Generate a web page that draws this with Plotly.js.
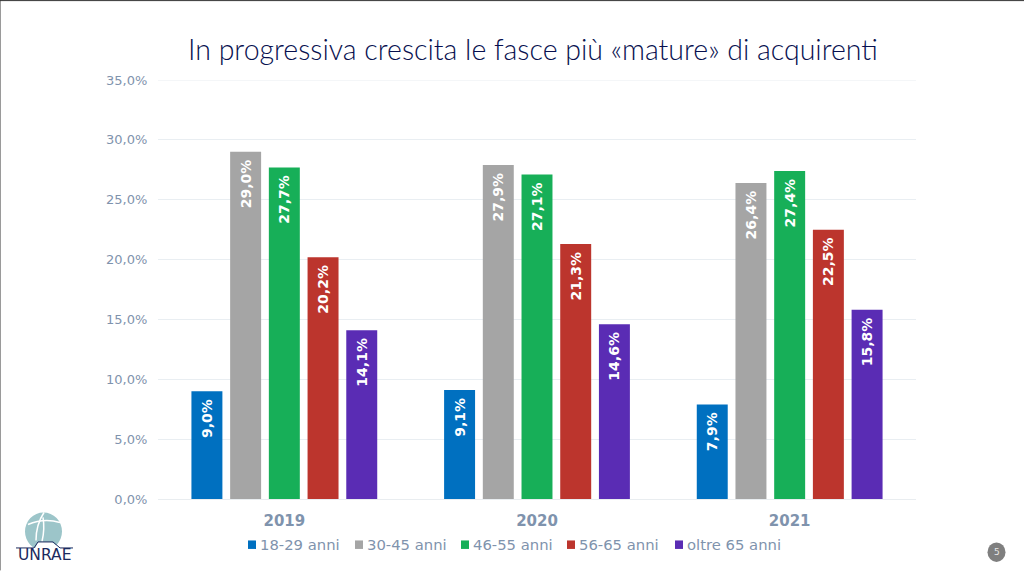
<!DOCTYPE html>
<html><head><meta charset="utf-8">
<script src="https://cdn.plot.ly/plotly-3.0.1.min.js"></script>
<style>html,body{margin:0;padding:0;background:#fff;overflow:hidden}#c{width:1024px;height:571px}</style>
</head><body><div id="c"></div>
<script>
const years = ['2019','2020','2021'];
const seriesNames = ['18-29 anni','30-45 anni','46-55 anni','56-65 anni','oltre 65 anni'];
const colors = ['#0070c0','#a5a5a5','#17af58','#bc352d','#5a2cb4'];
const s1829 = [9.0,9.1,7.9];
const s3045 = [29.0,27.9,26.4];
const s4655 = [27.7,27.1,27.4];
const s5665 = [20.2,21.3,22.5];
const sOver65 = [14.1,14.6,15.8];
const seriesValues = [s1829,s3045,s4655,s5665,sOver65];
const legendX = [248,355,461,567,675];
const W=1024,H=571,L=158,R=916,T=80,B=499.5;
const px=x=>(x-L)/(R-L), py=y=>1-(y-T)/(B-T);
const labelColor='#7f93ad';
const traces = seriesNames.map((n,i)=>({
  type:'bar',name:n,x:years,y:seriesValues[i],
  marker:{color:colors[i],line:{width:0}},
  texttemplate:'%{y:.1f}%\u00a0',textposition:'inside',insidetextanchor:'end',
  textangle:-90,constraintext:'none',cliponaxis:false,
  insidetextfont:{family:'DejaVu Sans',size:14,color:'#fff',weight:700},
  hoverinfo:'skip'
}));
const paperShape=(o)=>Object.assign({xref:'paper',yref:'paper',layer:'above'},o);
const P=(x,y)=>`${px(x)},${py(y)}`;
const shapes=[
  {type:'line',xref:'paper',yref:'y',x0:0,x1:1,y0:35,y1:35,layer:'below',line:{color:'#e9eef2',width:1}},
  paperShape({type:'line',x0:px(0.5),x1:px(0.5),y0:py(0),y1:py(571),line:{color:'#9a9a9a',width:1}}),
  paperShape({type:'line',x0:px(0),x1:px(1024),y0:py(0.5),y1:py(0.5),line:{color:'#333',width:1}}),
  ...legendX.map((x,i)=>paperShape({type:'rect',x0:px(x),x1:px(x+8),y0:py(549.5),y1:py(541),fillcolor:colors[i],line:{width:0}})),
  paperShape({type:'circle',x0:px(987.5),x1:px(1005.5),y0:py(562.5),y1:py(543),fillcolor:'#7f7f7f',line:{width:0}}),
  paperShape({type:'circle',x0:px(25),x1:px(62),y0:py(551),y1:py(513),fillcolor:'#9cc5c9',line:{width:0}}),
  paperShape({type:'path',path:`M${P(12,549)} L${P(35,549)} L${P(38,542.5)} L${P(52,542.5)} L${P(60,549)} L${P(75,549)} L${P(75,556)} L${P(12,556)} Z`,fillcolor:'#fff',line:{width:0}}),
  paperShape({type:'path',path:`M${P(44,513)} Q${P(36,525)} ${P(36,541)}`,line:{color:'#fff',width:1.5}}),
  paperShape({type:'path',path:`M${P(28,525)} Q${P(44,518)} ${P(60,523)}`,line:{color:'#fff',width:1.5}}),
  paperShape({type:'path',path:`M${P(43,518)} Q${P(45,530)} ${P(42,542)}`,line:{color:'#fff',width:1.5}}),
  paperShape({type:'path',path:`M${P(16,548.5)} L${P(34,548.5)} L${P(38,542.5)} L${P(53,542.5)} L${P(60,548.5)} L${P(73,548.5)}`,line:{color:'#1b2a5e',width:1}})
];
const annotations=[
  ...seriesNames.map((n,i)=>({xref:'paper',yref:'paper',x:px(legendX[i]+10),y:py(545),xanchor:'left',yanchor:'middle',showarrow:false,text:n,font:{family:'DejaVu Sans',size:14.8,color:labelColor}})),
  {xref:'paper',yref:'paper',x:px(996.5),y:py(553),xanchor:'center',yanchor:'middle',showarrow:false,text:'5',font:{family:'DejaVu Sans',size:9,color:'#e8e8e8'}},
  {xref:'paper',yref:'paper',x:px(44.5),y:py(555.5),xanchor:'center',yanchor:'middle',showarrow:false,text:'UNRAE',font:{family:'DejaVu Sans',size:15.5,color:'#1b2a5e'}}
];
const layout={
  width:W,height:H,
  margin:{l:L,r:W-R,t:T,b:H-B,pad:0},
  paper_bgcolor:'#fff',plot_bgcolor:'#fff',
  title:{text:'In progressiva crescita le fasce più «mature» di acquirenti',x:533/W,xanchor:'center',y:1-50/H,yanchor:'middle',font:{family:'Lato',size:28.5,weight:300,color:'#07104f'}},
  barmode:'group',bargap:0.234,bargroupgap:0.2,
  separators:',.',
  showlegend:false,
  xaxis:{type:'category',tickfont:{family:'DejaVu Sans',size:15,color:labelColor,weight:700},showgrid:false,showline:true,linecolor:'#e9edf0',linewidth:1,ticks:'outside',ticklen:8,tickcolor:'rgba(0,0,0,0)',automargin:false},
  yaxis:{range:[0,35],tick0:0,dtick:5,tickformat:'.1f',ticksuffix:'%',tickfont:{family:'DejaVu Sans',size:13,color:labelColor},gridcolor:'#e9eef2',gridwidth:1,zeroline:false,showline:false,ticks:'outside',ticklen:7,tickcolor:'rgba(0,0,0,0)',automargin:false},
  shapes,annotations
};
Plotly.newPlot('c',traces,layout,{staticPlot:true,displayModeBar:false});
</script></body></html>
